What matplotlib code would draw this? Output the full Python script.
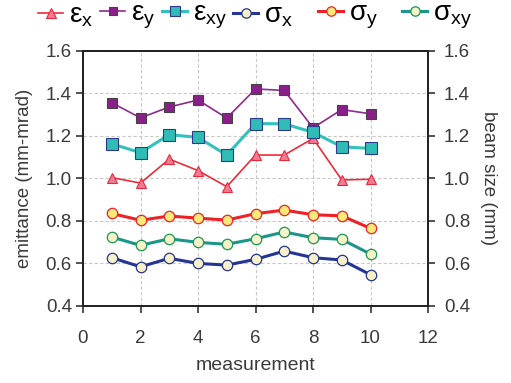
import matplotlib
matplotlib.use("Agg")
import matplotlib.pyplot as plt

plt.rcParams['font.family'] = ['Liberation Sans', 'DejaVu Sans']
plt.rcParams['mathtext.fontset'] = 'custom'
plt.rcParams['mathtext.rm'] = 'Liberation Sans'

measurement = [1, 2, 3, 4, 5, 6, 7, 8, 9, 10]
eps_x = [1.003, 0.977, 1.09, 1.036, 0.96, 1.109, 1.109, 1.187, 0.992, 0.995]
eps_y = [1.355, 1.284, 1.335, 1.368, 1.283, 1.42, 1.413, 1.237, 1.323, 1.303]
eps_xy = [1.162, 1.12, 1.205, 1.192, 1.109, 1.257, 1.256, 1.216, 1.148, 1.14]
sig_x = [0.626, 0.583, 0.623, 0.599, 0.591, 0.618, 0.657, 0.626, 0.615, 0.546]
sig_y = [0.834, 0.802, 0.822, 0.812, 0.803, 0.833, 0.85, 0.828, 0.823, 0.764]
sig_xy = [0.723, 0.684, 0.715, 0.698, 0.689, 0.715, 0.747, 0.72, 0.712, 0.643]

xticks = [0, 2, 4, 6, 8, 10, 12]
yticks = [0.4, 0.6, 0.8, 1.0, 1.2, 1.4, 1.6]

W, H = 511, 383
fig = plt.figure(figsize=(W / 100, H / 100), dpi=100)
ax = fig.add_axes([83 / W, 1 - 305.7 / H, 345 / W, 255 / H])

styles = [
    (eps_x, r'ε$_\mathrm{x}$', dict(color='#ee2a3a', lw=1.2, marker='^', ms=7.5,
                                    mfc='#f07c94', mec='#e8283c', mew=0.8)),
    (eps_y, r'ε$_\mathrm{y}$', dict(color='#8e2a90', lw=1.2, marker='s', ms=6.5,
                                    mfc='#8a1f8a', mec='#444444', mew=0.8)),
    (eps_xy, r'ε$_\mathrm{xy}$', dict(color='#32c2ba', lw=2.2, marker='s', ms=8,
                                      mfc='#2ebcb4', mec='#2e3a8c', mew=0.8)),
    (sig_x, r'σ$_\mathrm{x}$', dict(color='#263593', lw=2.2, marker='o', ms=7.5,
                                    mfc='#f6f1c8', mec='#263593', mew=0.9)),
    (sig_y, r'σ$_\mathrm{y}$', dict(color='#ee2226', lw=2.2, marker='o', ms=7.5,
                                    mfc='#fbe97a', mec='#ee2226', mew=0.9)),
    (sig_xy, r'σ$_\mathrm{xy}$', dict(color='#1a968a', lw=2.2, marker='o', ms=7.5,
                                      mfc='#f6f1c8', mec='#1a9a50', mew=0.9)),
]
lines = []
for vals, lab, kw in styles:
    ln, = ax.plot(measurement, vals, label=lab, zorder=3, **kw)
    lines.append(ln)

ax.set_xlim(0, 12)
ax.set_ylim(0.4, 1.6)
ax.set_xticks(xticks)
ax.set_yticks(yticks)
ax.set_yticklabels([f'{v:.1f}' for v in yticks])
ax.grid(True, color='#c8c8c8', ls=(0, (3, 2)), lw=0.8)
ax.tick_params(axis='both', labelsize=13.5, direction='out', length=5, width=1.2,
               colors='#333333', labelcolor='#3a3a3a')
ax.tick_params(axis='x', pad=12.5)
ax.tick_params(axis='y', pad=3, right=False)
for s in ax.spines.values():
    s.set_linewidth(1.3)
    s.set_color('#222222')
ax.set_xlabel('measurement', fontsize=14, color='#3a3a3a', labelpad=7)
ax.set_ylabel('emittance (mm-mrad)', fontsize=13.5, color='#3a3a3a')
ax.yaxis.set_label_coords((33 - 83) / 345, 0.5)

ax2 = ax.twinx()
ax2.set_ylim(0.4, 1.6)
ax2.set_yticks(yticks)
ax2.set_yticklabels([f'{v:.1f}' for v in yticks])
ax2.tick_params(axis='y', labelsize=13.5, direction='out', length=5, width=1.2,
                pad=6.5, colors='#333333', labelcolor='#3a3a3a')
for s in ax2.spines.values():
    s.set_linewidth(1.3)
    s.set_color('#222222')
ax2.set_ylabel('beam size (mm)', fontsize=13.5, color='#3a3a3a', rotation=270)
ax2.yaxis.label.set_verticalalignment('bottom')
ax2.yaxis.set_label_coords((480 - 83) / 345, 0.5)

# one-entry legends laid out in a row above the axes
legend_x = [38, 100, 162, 233, 318, 402]
for ln, x0 in zip(lines, legend_x):
    fig.legend([ln], [ln.get_label()], loc='center left',
               bbox_to_anchor=(x0 / W, 1 - 16 / H), frameon=False,
               fontsize=20, handlelength=0.9, handletextpad=0.2,
               borderpad=0, borderaxespad=0, markerscale=0.9)

fig.savefig('out.png', dpi=100)
